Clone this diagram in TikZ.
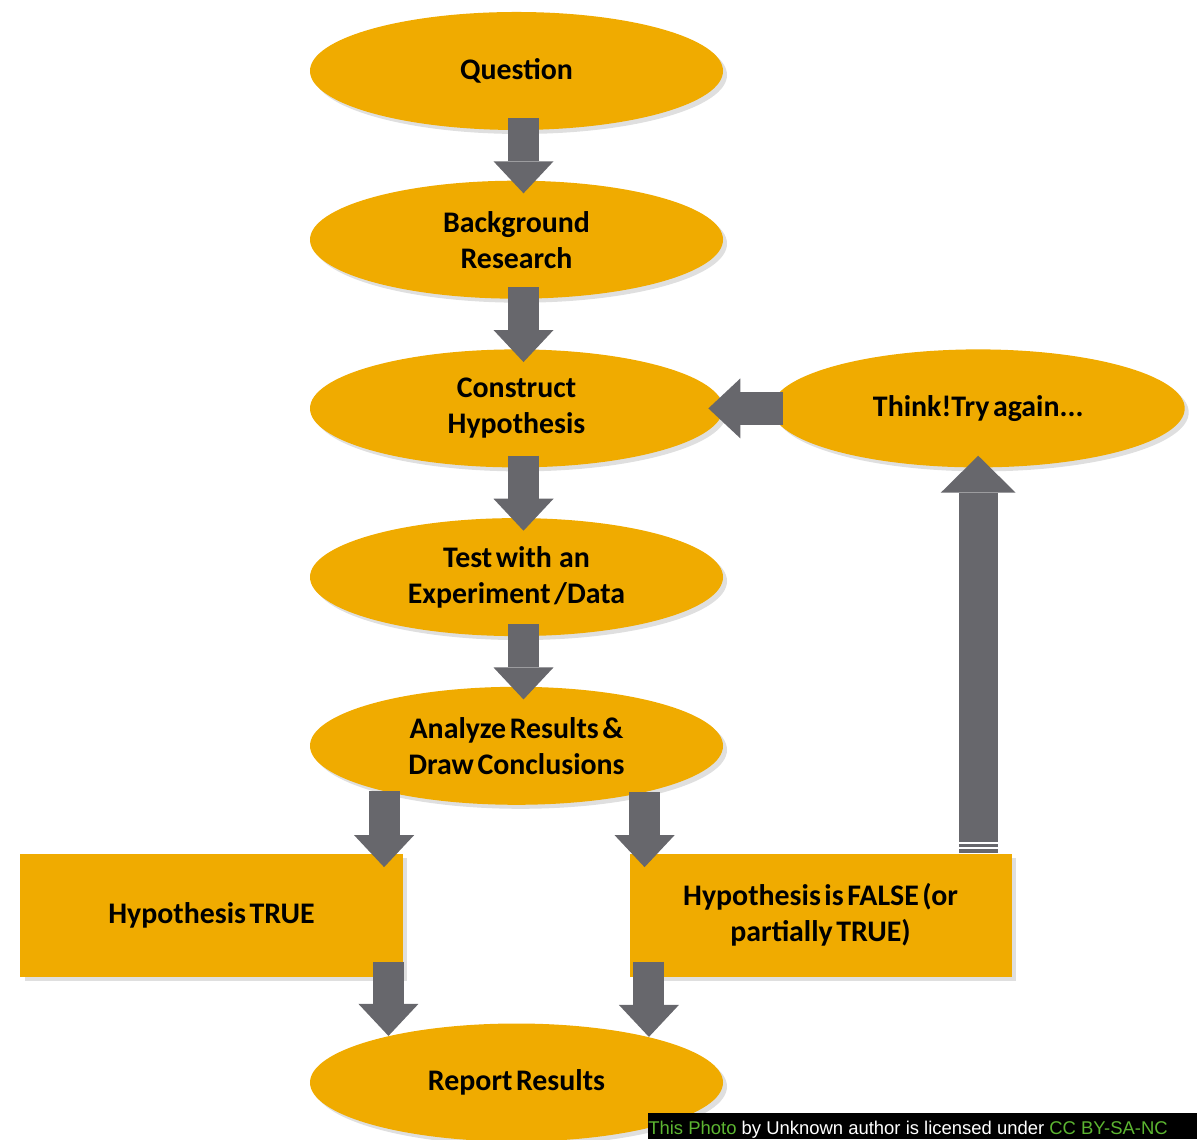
\documentclass[tikz,border=0pt]{standalone}
\usepackage{fontspec}
\setmainfont{Carlito}
\newfontfamily\creditfont{Liberation Sans}
\usetikzlibrary{positioning, arrows.meta, shapes.geometric, shadows}
\definecolor{stagegold}{HTML}{F0AB00}
\definecolor{arrowgray}{HTML}{67676C}
\definecolor{creditgreen}{HTML}{5CB531}
\newcommand\tightspaces{\spaceskip=0.12em\relax}

\begin{document}
\begin{tikzpicture}[
    node distance=1.0cm and 0.96cm,
    every node/.style={font=\fontsize{17pt}{20.5pt}\selectfont\bfseries\tightspaces},
    stage/.style={
        ellipse, fill=stagegold, minimum width=8.26cm, minimum height=2.36cm,
        inner sep=0pt, align=center,
        drop shadow={shadow xshift=0.08cm, shadow yshift=-0.08cm, opacity=0.25}
    },
    outcome/.style={
        rectangle, fill=stagegold, minimum width=7.64cm, minimum height=2.46cm,
        inner sep=0pt, align=center,
        drop shadow={shadow xshift=0.08cm, shadow yshift=-0.08cm, opacity=0.25}
    },
    flowarrow/.style={
        draw=arrowgray, line width=0.62cm,
        -{Triangle[width=1.2cm, length=0.64cm, line width=0pt]}
    },
]
\useasboundingbox (0,0) rectangle (23.94,22.78);

% === Main column ===
\node[stage] (question) at (10.33,21.36) {Question};
\node[stage, below=of question] (background) {Background\\Research};
\node[stage, below=of background] (construct) {Construct\\Hypothesis};
\node[stage, below=of construct] (test) {Test with\ \ an\\Experiment /Data};
\node[stage, below=of test] (analyze) {Analyze Results \&\\Draw Conclusions};

% === Loop back ===
\node[stage, right=0.96cm of construct] (think) {Think!Try again...};

% === Outcomes ===
\node[outcome, below=0.96cm of analyze, xshift=-6.1cm] (htrue) {Hypothesis TRUE};
\node[outcome, below=0.96cm of analyze, xshift=6.08cm] (hfalse)
    {Hypothesis is FALSE (or\\partially TRUE)};

% === Report ===
\node[stage, below=4.36cm of analyze] (report) {Report Results};

% ===== ARROWS =====

% Main column, top to bottom
\draw[flowarrow, shorten <=-0.24cm, shorten >=-0.26cm]
    ([xshift=0.14cm]question.south) -- ([xshift=0.14cm]background.north);
\draw[flowarrow, shorten <=-0.24cm, shorten >=-0.26cm]
    ([xshift=0.14cm]background.south) -- ([xshift=0.14cm]construct.north);
\draw[flowarrow, shorten <=-0.24cm, shorten >=-0.26cm]
    ([xshift=0.14cm]construct.south) -- ([xshift=0.14cm]test.north);
\draw[flowarrow, shorten <=-0.24cm, shorten >=-0.26cm]
    ([xshift=0.14cm]test.south) -- ([xshift=0.14cm]analyze.north);

% Analyze -> outcomes
\draw[flowarrow, shorten >=-0.28cm]
    (analyze.199.4) -- (analyze.199.4 |- htrue.north);
\draw[flowarrow, shorten >=-0.28cm]
    (analyze.340.6) -- (analyze.340.6 |- hfalse.north);

% Outcomes -> Report
\draw[flowarrow, shorten <=-0.3cm]
    (htrue.south -| report.160.6) -- (report.160.6);
\draw[flowarrow, shorten <=-0.3cm]
    (hfalse.south -| report.19.4) -- (report.19.4);

% False -> Think (up)
\coordinate (upfoot) at (hfalse.north -| think.south);
\draw[flowarrow, line width=0.78cm,
      -{Triangle[width=1.5cm, length=0.74cm, line width=0pt]}, shorten >=-0.24cm]
    (upfoot) -- (think.south);
\draw[white, line width=0.8pt] ([yshift=0.1cm]upfoot) +(-0.39,0) -- +(0.39,0);
\draw[white, line width=0.8pt] ([yshift=0.2cm]upfoot) +(-0.39,0) -- +(0.39,0);

% Think -> Construct
\draw[flowarrow, line width=0.66cm, shorten <=-0.24cm, shorten >=-0.3cm]
    (think.west) -- (construct.east);

% === Credit line ===
\node[fill=black, anchor=south west, minimum width=10.98cm, minimum height=0.52cm,
      inner sep=0pt] (creditbar) at (12.96,0) {};
\node[anchor=base west, inner sep=0pt, text=white,
      font=\creditfont\fontsize{10.5pt}{12pt}\selectfont] (credit)
    at ([yshift=0.09cm]creditbar.south west)
    {\textcolor{creditgreen}{This Photo} by Unknown author is licensed under \textcolor{creditgreen}{CC BY-SA-NC}};

\end{tikzpicture}
\end{document}
